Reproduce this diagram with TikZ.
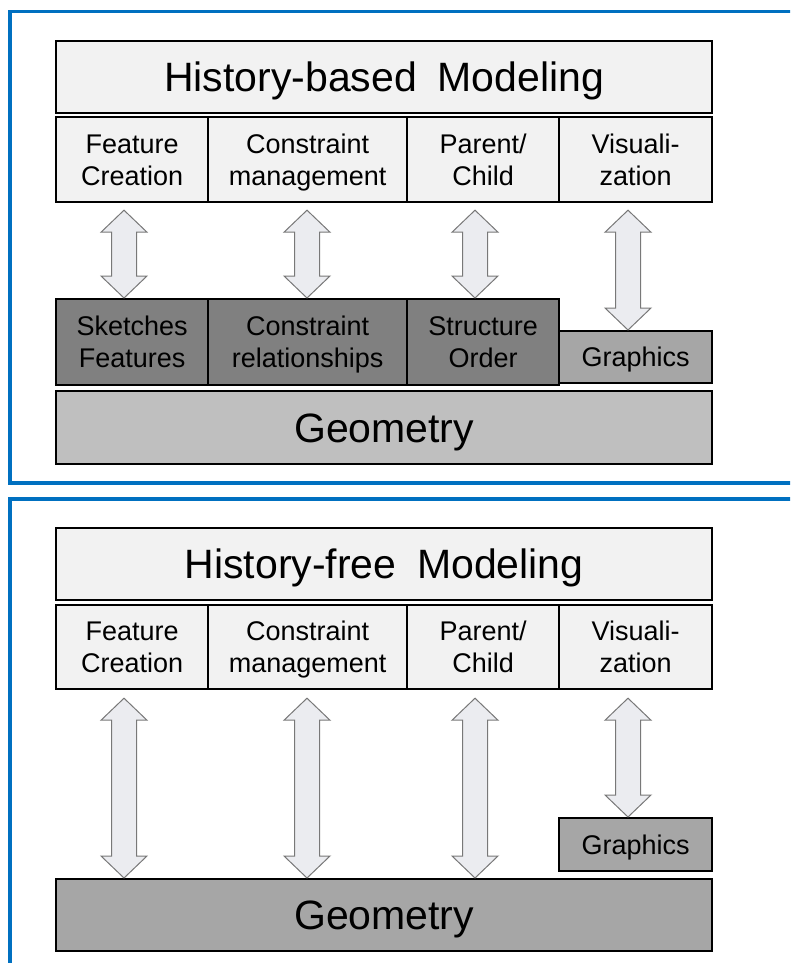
\documentclass[tikz,border=0pt]{standalone}
\usepackage{fontspec}
\setmainfont{Liberation Sans}
\usetikzlibrary{calc}

\definecolor{frameblue}{RGB}{0,112,192}
\definecolor{paleface}{RGB}{242,242,242}
\definecolor{darkface}{RGB}{128,128,128}
\definecolor{midface}{RGB}{166,166,166}
\definecolor{softface}{RGB}{191,191,191}
\definecolor{arrowface}{RGB}{235,236,240}
\definecolor{arrowedge}{RGB}{120,120,120}

\tikzset{
  box/.style={draw=black, line width=2.2pt, inner sep=0pt, anchor=north west, align=center, text=black},
  lbl/.style={font=\fontsize{27}{32}\selectfont},
  oneline/.style={text height=19.3pt, text depth=0pt},
  big/.style={font=\fontsize{41}{48}\selectfont, text height=29.4pt, text depth=0pt},
  frame/.style={draw=frameblue, line width=3.6pt},
  arrowline/.style={draw=arrowedge, fill=arrowface, line width=1pt, line join=miter},
}

% two centred lines; the box spans from the cap top of the first line
% to the baseline of the second, so descenders do not shift the text
\newcommand\twol[2]{\raisebox{0pt}[51.3pt][0pt]{\begin{tabular}[b]{@{}c@{}}#1\\#2\end{tabular}}}

% hollow two-headed block arrow between two points on the same vertical
\newcommand\blockarrow[2]{%
  \path[arrowline] let \p1=(#1), \p2=(#2) in
    (\x1,\y1) -- ++(23pt,-22pt) -- ++(-10.5pt,0pt) -- (\x1+12.5pt,\y2+22pt)
    -- ++(10.5pt,0pt) -- (\x2,\y2) -- ++(-23pt,22pt) -- ++(10.5pt,0pt)
    -- (\x1-12.5pt,\y1-22pt) -- ++(-10.5pt,0pt) -- cycle;}

\begin{document}
\begin{tikzpicture}[x=1pt, y=-1pt]
  \useasboundingbox (0,0) rectangle (790,963);
  \clip (0,0) rectangle (790,963);

  % blue panel frames
  \draw[frame] (10,11.5) rectangle (830,483);
  \draw[frame] (10,499) rectangle (830,1010);

  % column positions of the block arrows
  \coordinate (c1) at (124,0);
  \coordinate (c2) at (307,0);
  \coordinate (c3) at (475,0);
  \coordinate (c4) at (628,0);

  % ---------- history-based panel ----------
  \node[box, big, fill=paleface, minimum width=656pt, minimum height=72pt] (ttlA) at (55,40) {History-based\hspace{0.5em}Modeling};

  \node[box, lbl, fill=paleface, minimum width=152pt, minimum height=85pt] (fcA) at (55,116) {\twol{Feature}{Creation}};
  \node[box, lbl, fill=paleface, minimum width=199pt, minimum height=85pt] (cmA) at (207,116) {\twol{Constraint}{management}};
  \node[box, lbl, fill=paleface, minimum width=152pt, minimum height=85pt] (pcA) at (406,116) {\twol{Parent/}{Child}};
  \node[box, lbl, fill=paleface, minimum width=153pt, minimum height=85pt] (vzA) at (558,116) {\twol{Visuali-}{zation}};

  \node[box, lbl, fill=darkface, minimum width=152pt, minimum height=86pt] (skA) at (55,298) {\twol{Sketches}{Features}};
  \node[box, lbl, fill=darkface, minimum width=199pt, minimum height=86pt] (crA) at (207,298) {\twol{Constraint}{relationships}};
  \node[box, lbl, fill=darkface, minimum width=152pt, minimum height=86pt] (soA) at (406,298) {\twol{Structure}{Order}};
  \node[box, lbl, oneline, fill=midface, minimum width=153pt, minimum height=52pt] (grA) at (558,330) {Graphics};

  \node[box, big, fill=softface, minimum width=656pt, minimum height=73pt] (geA) at (55,390) {Geometry};

  \blockarrow{$(fcA.south -| c1)+(0,7)$}{skA.north -| c1}
  \blockarrow{$(cmA.south -| c2)+(0,7)$}{crA.north -| c2}
  \blockarrow{$(pcA.south -| c3)+(0,7)$}{soA.north -| c3}
  \blockarrow{$(vzA.south -| c4)+(0,7)$}{grA.north -| c4}

  % ---------- history-free panel ----------
  \node[box, big, fill=paleface, minimum width=656pt, minimum height=72pt] (ttlB) at (55,527) {History-free\hspace{0.5em}Modeling};

  \node[box, lbl, fill=paleface, minimum width=152pt, minimum height=84pt] (fcB) at (55,604) {\twol{Feature}{Creation}};
  \node[box, lbl, fill=paleface, minimum width=199pt, minimum height=84pt] (cmB) at (207,604) {\twol{Constraint}{management}};
  \node[box, lbl, fill=paleface, minimum width=152pt, minimum height=84pt] (pcB) at (406,604) {\twol{Parent/}{Child}};
  \node[box, lbl, fill=paleface, minimum width=153pt, minimum height=84pt] (vzB) at (558,604) {\twol{Visuali-}{zation}};

  \node[box, lbl, oneline, fill=midface, minimum width=153pt, minimum height=53pt] (grB) at (558,817) {Graphics};
  \node[box, big, fill=midface, minimum width=656pt, minimum height=72pt] (geB) at (55,878) {Geometry};

  \blockarrow{$(fcB.south -| c1)+(0,8)$}{geB.north -| c1}
  \blockarrow{$(cmB.south -| c2)+(0,8)$}{geB.north -| c2}
  \blockarrow{$(pcB.south -| c3)+(0,8)$}{geB.north -| c3}
  \blockarrow{$(vzB.south -| c4)+(0,8)$}{grB.north -| c4}
\end{tikzpicture}
\end{document}
